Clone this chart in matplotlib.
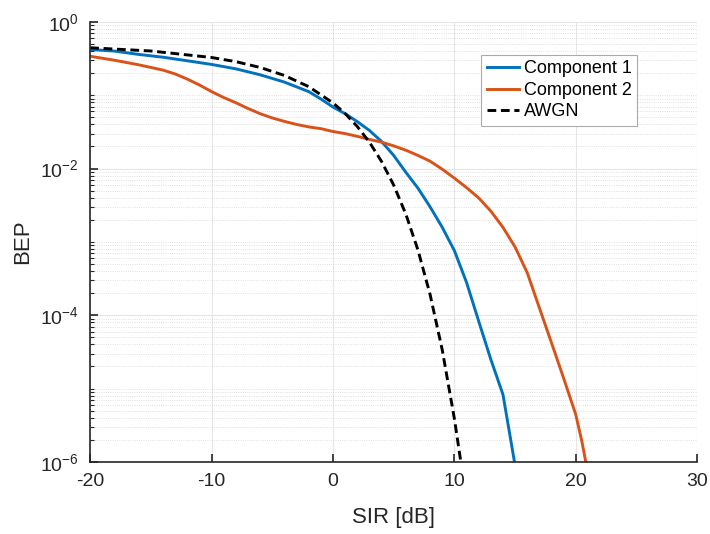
import numpy as np
import matplotlib.pyplot as plt
from matplotlib.ticker import NullFormatter, FixedLocator

plt.rcParams['font.family'] = ['Liberation Sans', 'DejaVu Sans']
plt.rcParams['axes.unicode_minus'] = False

# BEP curves vs SIR [dB]
sir_c1 = [-20, -18, -16, -14, -12, -10, -8, -6, -4, -2, -1, 0, 1, 2, 3, 4,
          5, 6, 7, 8, 9, 10, 11, 12, 13, 14, 15]
bep_c1 = [0.42, 0.40, 0.36, 0.33, 0.295, 0.263, 0.229, 0.19, 0.151, 0.112,
          0.089, 0.069, 0.056, 0.0437, 0.0331, 0.0234, 0.0151, 8.9e-3,
          5.4e-3, 3.0e-3, 1.58e-3, 7.6e-4, 2.8e-4, 8.3e-5, 2.5e-5, 8.3e-6,
          8.9e-7]

sir_c2 = [-20, -18, -16, -14, -13, -12, -11, -10, -9, -8, -7, -6, -5, -4,
          -3, -2, -1, 0, 1, 2, 3, 4, 5, 6, 7, 8, 9, 10, 11, 12, 13, 14, 15,
          16, 17, 18, 19, 20, 20.5, 21]
bep_c2 = [0.34, 0.30, 0.26, 0.22, 0.195, 0.166, 0.138, 0.112, 0.093, 0.079,
          0.066, 0.056, 0.049, 0.044, 0.040, 0.037, 0.035, 0.032, 0.030,
          0.0275, 0.025, 0.0229, 0.0204, 0.0178, 0.0151, 0.0126, 0.0098,
          0.0074, 0.0055, 3.98e-3, 2.63e-3, 1.58e-3, 8.5e-4, 3.8e-4,
          1.26e-4, 4.2e-5, 1.38e-5, 4.4e-6, 1.9e-6, 7e-7]

sir_awgn = [-20, -15, -10, -8, -6, -4, -2, 0, 1, 2, 3, 4, 5, 6, 7, 8, 9,
            10, 10.5, 11]
bep_awgn = [0.444, 0.401, 0.327, 0.287, 0.239, 0.186, 0.131, 0.0786,
            0.0563, 0.0375, 0.0229, 0.0125, 5.95e-3, 2.39e-3, 7.73e-4,
            1.91e-4, 3.36e-5, 3.87e-6, 1.08e-6, 2.6e-7]

fig = plt.figure(figsize=(7.10, 5.34), dpi=100)
ax = fig.add_axes([0.127, 0.135, 0.855, 0.824])

ax.semilogy(sir_c1, bep_c1, color='#0072BD', lw=2.1, label='Component 1')
ax.semilogy(sir_c2, bep_c2, color='#D95319', lw=2.1, label='Component 2')
ax.semilogy(sir_awgn, bep_awgn, 'k--', lw=2.1, dashes=(3, 1.6),
            label='AWGN')

ax.set_xlim(-20, 30)
ax.set_ylim(1e-6, 1)
ax.set_xticks([-20, -10, 0, 10, 20, 30])
ax.yaxis.set_major_locator(FixedLocator([1e-6, 1e-4, 1e-2, 1e0]))
ax.set_yticklabels(['$\\mathregular{10^{-6}}$', '$\\mathregular{10^{-4}}$',
                    '$\\mathregular{10^{-2}}$', '$\\mathregular{10^{0}}$'])
minor = [m * 10.0 ** k for k in range(-6, 0) for m in range(1, 10)]
minor = [v for v in minor if v not in (1e-6, 1e-4, 1e-2)]
ax.yaxis.set_minor_locator(FixedLocator(minor))
ax.yaxis.set_minor_formatter(NullFormatter())

ax.grid(True, which='major', color='#e6e6e6', lw=0.8)
ax.grid(True, which='minor', axis='y', color='#d6d6d6', lw=0.6, ls=':')
ax.set_axisbelow(True)

for s in ('top', 'right'):
    ax.spines[s].set_visible(False)
for s in ('left', 'bottom'):
    ax.spines[s].set_color('#262626')
    ax.spines[s].set_linewidth(1.2)
ax.tick_params(which='both', direction='in', colors='#262626', labelsize=14)
ax.tick_params(which='major', length=6, width=1.2, pad=8)
ax.tick_params(which='minor', length=3, width=0.8)

ax.set_xlabel('SIR [dB]', fontsize=16, color='#262626', labelpad=12)
ax.set_ylabel('BEP', fontsize=16, color='#262626', labelpad=5)

leg = ax.legend(loc='upper right', bbox_to_anchor=(0.901, 0.925),
                fontsize=13, fancybox=False, framealpha=1,
                edgecolor='#aaaaaa', handlelength=1.8, handletextpad=0.25,
                borderpad=0.3, labelspacing=0.25, borderaxespad=0)
leg.get_frame().set_linewidth(0.8)

fig.savefig('out.png', dpi=100)
